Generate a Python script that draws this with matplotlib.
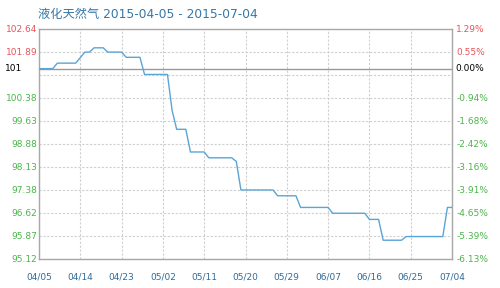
import matplotlib
matplotlib.use("Agg")
import matplotlib.pyplot as plt
import matplotlib.dates as mdates
import numpy as np
import pandas as pd

# data ########################################################################
title = "液化天然气 2015-04-05 - 2015-07-04"

dates = ["2015-04-05", "2015-04-08", "2015-04-09", "2015-04-13", "2015-04-15",
         "2015-04-16", "2015-04-17", "2015-04-19", "2015-04-20", "2015-04-23",
         "2015-04-24", "2015-04-27", "2015-04-28", "2015-05-03", "2015-05-04",
         "2015-05-05", "2015-05-07", "2015-05-08", "2015-05-11", "2015-05-12",
         "2015-05-17", "2015-05-18", "2015-05-19", "2015-05-26", "2015-05-27",
         "2015-05-31", "2015-06-01", "2015-06-07", "2015-06-08", "2015-06-15",
         "2015-06-16", "2015-06-18", "2015-06-19", "2015-06-23", "2015-06-24",
         "2015-07-02", "2015-07-03", "2015-07-04"]
prices = [101.33, 101.33, 101.51, 101.51, 101.87,
          101.87, 102.01, 102.01, 101.87, 101.87,
          101.70, 101.70, 101.14, 101.14, 99.97,
          99.35, 99.35, 98.61, 98.61, 98.42,
          98.42, 98.30, 97.37, 97.37, 97.18,
          97.18, 96.80, 96.80, 96.61, 96.61,
          96.41, 96.41, 95.73, 95.73, 95.85,
          95.85, 96.80, 96.80]

y_ticks = np.linspace(95.12, 102.64, 11)
y_labels = ["95.12", "95.87", "96.62", "97.38", "98.13", "98.88",
            "99.63", "100.38", "", "101.89", "102.64"]
pct_labels = ["-6.13%", "-5.39%", "-4.65%", "-3.91%", "-3.16%", "-2.42%",
              "-1.68%", "-0.94%", "", "0.55%", "1.29%"]
base_label = "101"
base_pct = "0.00%"

x_ticks = pd.date_range("2015-04-05", "2015-07-04", freq="9D")

# colours #####################################################################
RED = "#e8545a"
GREEN = "#4cb44c"
BLUE = "#2e6a99"
TITLE = "#3677a6"
LINE = "#5aa5d6"
GRID = "#cfcfcf"
EDGE = "#a8a8a8"

# figure ######################################################################
fig = plt.figure(figsize=(5.0, 2.88), dpi=100)
ax = fig.add_axes([0.078, 0.101, 0.826, 0.8])

x = pd.to_datetime(dates)
ax.plot(x, prices, "-", c=LINE, lw=1.0, zorder=3)

base = prices[0]
ax.axhline(base, color="#9a9a9a", lw=1.0, zorder=2)

ax.set_xlim(x_ticks[0], x_ticks[-1])
ax.set_ylim(y_ticks[0], y_ticks[-1])

ax.set_xticks(x_ticks)
ax.xaxis.set_major_formatter(mdates.DateFormatter("%m/%d"))
ax.tick_params(axis="x", length=0, pad=10, labelsize=6.5, labelcolor=BLUE)

ax.set_yticks(y_ticks)
ax.set_yticklabels(y_labels)
ax.tick_params(axis="y", length=0, pad=1, labelsize=6.5)
for t, v in zip(ax.get_yticklabels(), y_ticks):
    t.set_color(RED if v > base else GREEN)

ax.grid(True, ls=(0, (2, 1.5)), color=GRID, lw=0.8)
for s in ax.spines.values():
    s.set_color(EDGE)
    s.set_linewidth(1.0)

# right axis (percent) ########################################################
ax2 = ax.twinx()
ax2.set_ylim(ax.get_ylim())
ax2.set_yticks(y_ticks)
ax2.set_yticklabels(pct_labels)
ax2.tick_params(axis="y", length=0, pad=3, labelsize=6.5)
for t, v in zip(ax2.get_yticklabels(), y_ticks):
    t.set_color(RED if v > base else GREEN)
for s in ax2.spines.values():
    s.set_visible(False)

# base labels
ax.text(-0.083, base, base_label, transform=ax.get_yaxis_transform(),
        ha="left", va="center", fontsize=6.5, color="black")
ax.text(1.008, base, base_pct, transform=ax.get_yaxis_transform(),
        ha="left", va="center", fontsize=6.5, color="black")

fig.text(0.076, 0.95, title, ha="left", va="center", fontsize=8.8, color=TITLE,
         family=["DejaVu Sans", "Noto Sans CJK SC"])

fig.savefig("out.png", dpi=100)
